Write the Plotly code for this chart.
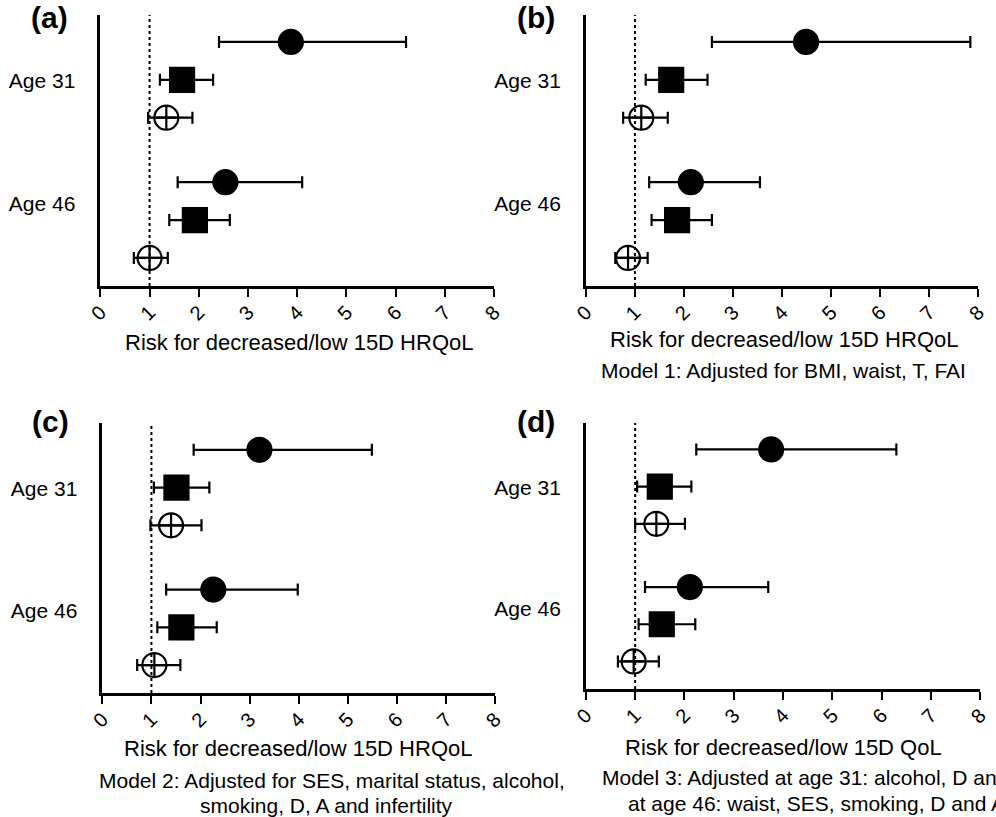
import plotly.graph_objects as go

# ---------------- data ----------------
panel_labels = ["(a)", "(b)", "(c)", "(d)"]
age_labels = ["Age 31", "Age 46"]
series_names = ["Series 1", "Series 2", "Series 3"]

# each list: [Age31 s1, Age31 s2, Age31 s3, Age46 s1, Age46 s2, Age46 s3]
a_est = [3.87, 1.66, 1.34, 2.54, 1.92, 1.00]
a_lo = [2.41, 1.21, 0.97, 1.57, 1.40, 0.68]
a_hi = [6.21, 2.29, 1.87, 4.10, 2.63, 1.37]

b_est = [4.49, 1.74, 1.13, 2.14, 1.86, 0.86]
b_lo = [2.57, 1.22, 0.76, 1.29, 1.34, 0.60]
b_hi = [7.84, 2.48, 1.67, 3.55, 2.57, 1.26]

c_est = [3.20, 1.51, 1.40, 2.26, 1.61, 1.06]
c_lo = [1.86, 1.05, 0.98, 1.30, 1.12, 0.71]
c_hi = [5.49, 2.18, 2.02, 3.98, 2.33, 1.59]

d_est = [3.76, 1.50, 1.43, 2.11, 1.54, 0.97]
d_lo = [2.24, 1.04, 1.00, 1.20, 1.07, 0.65]
d_hi = [6.30, 2.14, 2.01, 3.70, 2.22, 1.48]

x_ticks = [0, 1, 2, 3, 4, 5, 6, 7, 8]
ref_value = 1

titles = [
    ["Risk for decreased/low 15D HRQoL"],
    ["Risk for decreased/low 15D HRQoL", "Model 1: Adjusted for BMI, waist, T, FAI"],
    ["Risk for decreased/low 15D HRQoL", "Model 2: Adjusted for SES, marital status, alcohol,",
     "smoking, D, A and infertility"],
    ["Risk for decreased/low 15D QoL", "Model 3: Adjusted at age 31: alcohol, D and A",
     "at age 46: waist, SES, smoking, D and A"],
]

# ---------------- layout helpers ----------------
W, H = 996, 817
def px(x):
    return x / W
def py(y):
    return 1 - y / H

FONT = "Liberation Sans, Arial, Helvetica, sans-serif"

# row positions (within-group index + group offset)
group_step = 3.7
def row_pos(i):
    g, k = divmod(i, 3)
    return 1 + k + g * group_step

age_tick_pos = [2.02, 5.27]

# panel geometry in pixels: x0 (value 0), x8 (value 8), top, bottom
geo = [
    (88.5, 492, 15, 286),
    (586, 988, 15, 286),
    (90.5, 493, 423, 693),
    (586, 990, 423, 689),
]
# panel label left edge / center y
label_pos = [(15, 18), (513, 18), (16, 421), (513, 421)]
# title line positions (center x, y, font size) per panel
title_pos = [
    [(292, 342, 22)],
    [(789, 340, 22), (789, 370, 21)],
    [(291, 748, 22), (326, 780, 21), (320, 805, 21)],
    [(789, 747, 22), (820, 777, 21), (822, 803, 21)],
]

data_sets = [(a_est, a_lo, a_hi), (b_est, b_lo, b_hi), (c_est, c_lo, c_hi), (d_est, d_lo, d_hi)]

symbols = ["circle", "square", "circle-cross-open"]
sizes = [24, 24, 24]

fig = go.Figure()
annotations = []
shapes = []

for p, (est, lo, hi) in enumerate(data_sets):
    xa = "x" if p == 0 else f"x{p+1}"
    ya = "y" if p == 0 else f"y{p+1}"
    for s in range(3):
        idx = [s, s + 3]
        xs = [est[i] for i in idx]
        ys = [row_pos(i) for i in idx]
        plus = [hi[i] - est[i] for i in idx]
        minus = [est[i] - lo[i] for i in idx]
        fig.add_trace(go.Scatter(
            x=xs, y=ys, mode="markers", xaxis=xa, yaxis=ya, showlegend=False,
            name=series_names[s],
            marker=dict(symbol=symbols[s], size=sizes[s], color="black",
                        line=dict(color="black", width=2.2)),
            error_x=dict(type="data", symmetric=False, array=plus, arrayminus=minus,
                         color="black", thickness=2.2, width=6),
        ))
    x0, x8, top, bot = geo[p]
    axis_common = dict(showgrid=False, zeroline=False, showline=True,
                       linecolor="black", linewidth=2.5)
    fig.layout[f"xaxis{'' if p == 0 else p+1}"] = dict(
        domain=[px(x0), px(x8)], range=[0, 8], anchor=ya,
        tickvals=x_ticks, ticktext=[str(v) for v in x_ticks],
        ticks="outside", ticklen=8, tickwidth=2, tickcolor="black",
        tickangle=-45, ticklabelstandoff=-4,
        tickfont=dict(size=20, family=FONT, color="black"),
        **axis_common)
    fig.layout[f"yaxis{'' if p == 0 else p+1}"] = dict(
        domain=[py(bot), py(top)], range=[7.44, 0.29], anchor=xa,
        tickvals=age_tick_pos, ticktext=age_labels, ticks="",
        ticklabelstandoff=18,
        tickfont=dict(size=21, family=FONT, color="black"),
        **axis_common)
    shapes.append(dict(type="line", xref=xa, yref=f"{ya} domain", x0=ref_value, x1=ref_value,
                       y0=0, y1=1, line=dict(color="black", width=2, dash="dot"), layer="below"))
    lx, ly = label_pos[p]
    annotations.append(dict(text=f"<b>{panel_labels[p]}</b>", x=px(lx), y=py(ly),
                            xref="paper", yref="paper", showarrow=False,
                            font=dict(size=30, family=FONT, color="black"),
                            xanchor="left", yanchor="middle"))
    for t, (tx, ty, fs) in zip(titles[p], title_pos[p]):
        annotations.append(dict(text=t, x=px(tx), y=py(ty), xref="paper", yref="paper",
                                showarrow=False, font=dict(size=fs, family=FONT, color="black"),
                                xanchor="center", yanchor="middle"))

fig.update_layout(
    width=W, height=H, margin=dict(l=0, r=0, t=0, b=0),
    paper_bgcolor="white", plot_bgcolor="white",
    font=dict(family=FONT, color="black"),
    annotations=annotations, shapes=shapes,
)

fig.write_html("out.html", config={"displayModeBar": False},
               post_script="document.body.style.margin='0';document.body.style.overflow='hidden';")
